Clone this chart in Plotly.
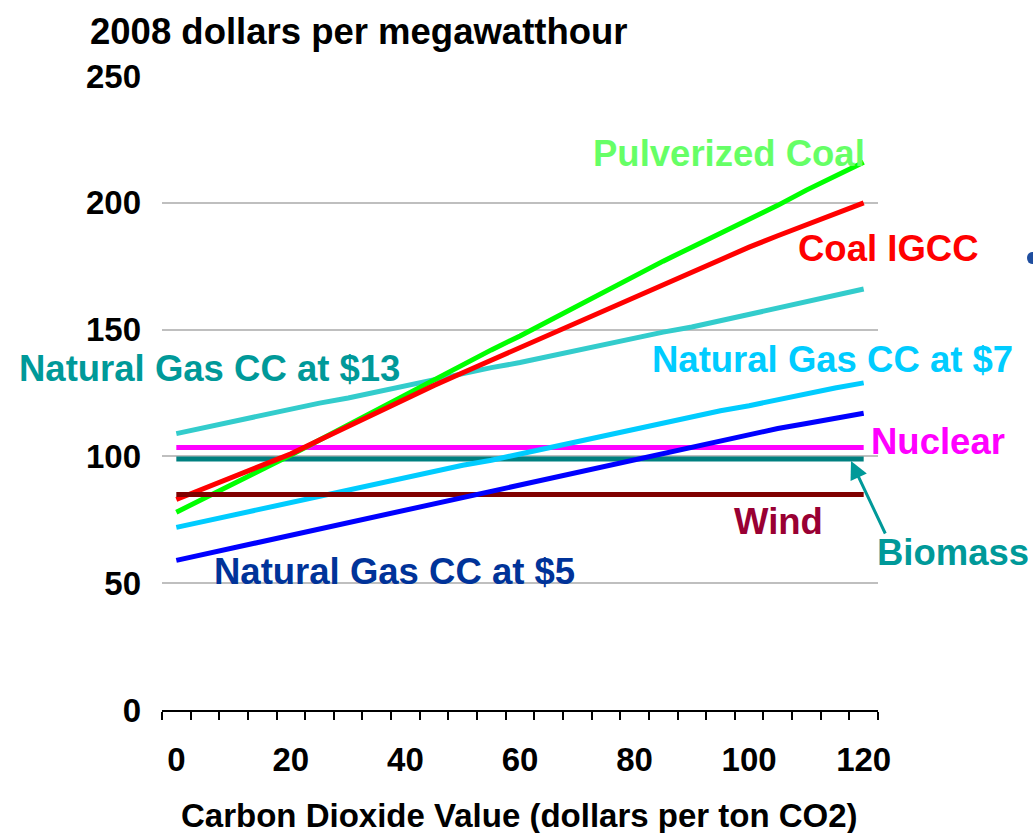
import plotly.graph_objects as go

# ---------------- data ----------------
co2_value = [0, 5, 10, 15, 20, 25, 30, 35, 40, 45, 50, 55, 60,
             65, 70, 75, 80, 85, 90, 95, 100, 105, 110, 115, 120]

pulverized_coal = [78, 83.5, 89, 94.5, 100.5, 106.5, 112.5, 118.5, 124.5, 130.5, 136.5, 142, 147.5,
                   153.5, 159.5, 165, 171, 177, 182.5, 188, 193, 199, 205, 210.5, 216]
coal_igcc = [83, 87.5, 92, 96.5, 101, 106.5, 112, 117, 122.5, 128, 133, 138, 143,
             148, 152.5, 157.5, 163, 168, 173, 178, 182.5, 187, 191.5, 196, 200]
ng_cc_13 = [109, 111.5, 114, 116, 118.5, 121, 123, 125.5, 128, 130, 132.5, 135, 137,
            139.5, 142, 144, 146.5, 149, 151, 153.5, 156, 158.5, 161, 163.5, 166]
ng_cc_7 = [72, 74.5, 77, 79.5, 82, 84.5, 86.5, 89, 91.5, 94, 96.5, 98.5, 101,
           103.5, 106, 108.5, 110.5, 113, 115.5, 118, 120, 122.5, 124.5, 127, 129]
ng_cc_5 = [59, 61.5, 64, 66.5, 69, 71.5, 74, 76.5, 79, 81.5, 84, 86, 88.5,
           91, 93.5, 96, 98.5, 101, 103.5, 106, 108.5, 111, 113, 115, 117]
nuclear = [103.5, 103.5, 103.5, 103.5, 103.5, 103.5, 103.5, 103.5, 103.5, 103.5, 103.5, 103.5, 103.5,
           103.5, 103.5, 103.5, 103.5, 103.5, 103.5, 103.5, 103.5, 103.5, 103.5, 103.5, 103.5]
biomass = [99, 99, 99, 99, 99, 99, 99, 99, 99, 99, 99, 99, 99,
           99, 99, 99, 99, 99, 99, 99, 99, 99, 99, 99, 99]
wind = [85, 85, 85, 85, 85, 85, 85, 85, 85, 85, 85, 85, 85,
        85, 85, 85, 85, 85, 85, 85, 85, 85, 85, 85, 85]

x_tick_values = [0, 20, 40, 60, 80, 100, 120]
y_tick_values = [0, 50, 100, 150, 200, 250]

y_title = "2008 dollars per megawatthour"
x_title = "Carbon Dioxide Value (dollars per ton CO2)"

# ---------------- figure ----------------
W, H = 1033, 833
L, R, T, B = 162, 878, 76, 710   # plot area pixel box

FONT = "Arial, Liberation Sans, sans-serif"

def px(xp):
    return (xp - L) / (R - L)

def py(yp):
    return (B - yp) / (B - T)

fig = go.Figure()

series = [
    ("Nuclear", nuclear, "#FF00FF"),
    ("Biomass", biomass, "#008080"),
    ("Natural Gas CC at $13", ng_cc_13, "#33CCCC"),
    ("Natural Gas CC at $7", ng_cc_7, "#00CCFF"),
    ("Pulverized Coal", pulverized_coal, "#00FF00"),
    ("Coal IGCC", coal_igcc, "#FF0000"),
    ("Wind", wind, "#800000"),
    ("Natural Gas CC at $5", ng_cc_5, "#0000FF"),
]
for name, vals, col in series:
    fig.add_trace(go.Scatter(x=co2_value, y=vals, mode="lines", name=name,
                             line=dict(color=col, width=5), showlegend=False))

labels = [
    ("Pulverized Coal", "#66FF66", 729, 153),
    ("Coal IGCC", "#FF0000", 889, 248),
    ("Natural Gas CC at $13", "#009999", 209, 368),
    ("Natural Gas CC at $7", "#00CCFF", 832, 359),
    ("Nuclear", "#FF00FF", 938, 441),
    ("Wind", "#990033", 778, 521),
    ("Biomass", "#009999", 953, 552),
    ("Natural Gas CC at $5", "#003399", 394, 571),
]
annotations = []
for text, col, xp, yp in labels:
    annotations.append(dict(text="<b>%s</b>" % text, xref="paper", yref="paper",
                            x=px(xp), y=py(yp), xanchor="center", yanchor="middle",
                            showarrow=False, font=dict(family=FONT, size=36.5, color=col)))

# arrow from Biomass label to biomass line
annotations.append(dict(text="", xref="paper", yref="paper", x=px(851), y=py(461),
                        ax=35, ay=74, showarrow=True, arrowhead=2, arrowsize=1.2,
                        arrowwidth=3, arrowcolor="#009999"))

# y-axis title (top left)
annotations.append(dict(text="<b>%s</b>" % y_title, xref="paper", yref="paper",
                        x=px(88), y=py(31), xanchor="left", yanchor="middle",
                        showarrow=False, font=dict(family=FONT, size=36.5, color="black")))
# x-axis title
annotations.append(dict(text="<b>%s</b>" % x_title, xref="paper", yref="paper",
                        x=px(519), y=py(815), xanchor="center", yanchor="middle",
                        showarrow=False, font=dict(family=FONT, size=33, color="black")))

# small clipped mark at the right edge
shapes = [dict(type="circle", xref="paper", yref="paper",
               x0=px(1027), x1=px(1037), y0=py(264), y1=py(252),
               fillcolor="#1F4E9F", line=dict(width=0))]

fig.update_layout(
    width=W, height=H,
    margin=dict(l=L, r=W - R, t=T, b=H - B, pad=0),
    paper_bgcolor="white", plot_bgcolor="white",
    annotations=annotations,
    shapes=shapes,
    showlegend=False,
    xaxis=dict(range=[-2.5, 122.5], tickvals=x_tick_values,
               ticktext=["<b>%d</b>" % v for v in x_tick_values],
               ticks="", showgrid=False, zeroline=False,
               showline=True, linecolor="black", linewidth=2,
               tickfont=dict(family=FONT, size=33, color="black"),
               ticklabelstandoff=19,
               minor=dict(ticks="outside", tick0=-2.5, dtick=5, ticklen=8,
                          tickwidth=2, tickcolor="black", showgrid=False)),
    yaxis=dict(range=[0, 250], tickvals=y_tick_values,
               ticktext=["<b>%d</b>" % v for v in y_tick_values],
               ticks="", showgrid=True, gridcolor="#BFBFBF", gridwidth=2,
               zeroline=False, showline=False,
               tickfont=dict(family=FONT, size=33, color="black"),
               ticklabelstandoff=20),
)

fig.write_html("out.html", config={"displayModeBar": False},
               post_script="document.body.style.margin='0';document.body.style.overflow='hidden';")
